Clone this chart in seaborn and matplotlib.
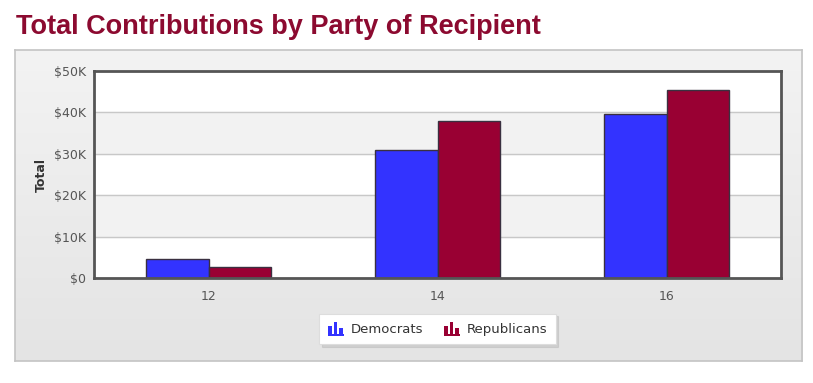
import numpy as np
import pandas as pd
import matplotlib
matplotlib.use("Agg")
import matplotlib.pyplot as plt
import seaborn as sns
from matplotlib.patches import Rectangle
from matplotlib.legend_handler import HandlerBase
from matplotlib.colors import LinearSegmentedColormap

# ---- data ----
cycles = ["12", "14", "16"]
democrats = [4500, 31000, 39500]
republicans = [2700, 38000, 45300]
parties = ["Democrats", "Republicans"]
party_colors = ["#3333FF", "#990033"]
y_ticks = [0, 10000, 20000, 30000, 40000, 50000]
y_tick_labels = ["$0", "$10K", "$20K", "$30K", "$40K", "$50K"]
title_text = "Total Contributions by Party of Recipient"
y_label = "Total"

df = pd.DataFrame({
    "cycle": cycles * 2,
    "party": [parties[0]] * len(cycles) + [parties[1]] * len(cycles),
    "total": democrats + republicans,
})

sns.set_theme(style="white")
plt.rcParams["font.family"] = ["DejaVu Sans"]

fig = plt.figure(figsize=(8.13, 3.83), dpi=100)
W, H = 813, 383

# background panel with gradient
bg = fig.add_axes([15 / W, 1 - 361 / H, (802 - 15) / W, (361 - 50) / H], zorder=-5)
grad = np.linspace(0, 1, 256).reshape(-1, 1)
cmap = LinearSegmentedColormap.from_list("g", ["#f3f3f3", "#e4e4e4"])
bg.imshow(grad, aspect="auto", cmap=cmap, extent=[0, 1, 0, 1], origin="upper")
bg.set_xlim(0, 1); bg.set_ylim(0, 1)
bg.set_xticks([]); bg.set_yticks([])
for s in bg.spines.values():
    s.set_color("#c4c4c4"); s.set_linewidth(1.2)

ax = fig.add_axes([94 / W, 1 - 278 / H, (781 - 94) / W, (278 - 71) / H])

sns.barplot(data=df, x="cycle", y="total", hue="party", palette=party_colors,
            order=cycles, hue_order=parties, width=0.55, gap=0,
            edgecolor="#3a3040", linewidth=1.0, saturation=1, ax=ax, legend=False)

ax.set_ylim(y_ticks[0], y_ticks[-1])
ax.set_xlim(-0.5, len(cycles) - 0.5)
ax.set_facecolor("white")
for i in range(len(y_ticks) - 1):
    if i % 2 == 1:
        ax.axhspan(y_ticks[i], y_ticks[i + 1], color="#f2f2f2", zorder=0)
for t in y_ticks[1:-1]:
    ax.axhline(t, color="#c8c8c8", lw=1.0, zorder=0.5)
ax.set_axisbelow(True)

ax.set_yticks(y_ticks)
ax.set_yticklabels(y_tick_labels)
ax.tick_params(axis="both", labelsize=9, colors="#555555", length=0)
ax.tick_params(axis="x", pad=9)
ax.tick_params(axis="y", pad=6)
ax.set_xlabel("")
ax.set_ylabel(y_label, fontsize=9, fontweight="bold", color="#333333", labelpad=4)
for s in ax.spines.values():
    s.set_color("#555555"); s.set_linewidth(2)

fig.text(16 / W, 1 - 27 / H, title_text, fontsize=19.5, fontweight="bold",
         color="#8c0a30", va="center", ha="left", family=["Liberation Sans", "DejaVu Sans"])


class BarsIcon(HandlerBase):
    def create_artists(self, legend, orig_handle, xdescent, ydescent, width, height,
                       fontsize, trans):
        c = orig_handle.get_facecolor()
        arts = []
        bw = width / 4.0
        heights = [0.65, 1.05, 0.5]
        for k, hh in enumerate(heights):
            r = Rectangle((-xdescent + k * (bw + 1.5), -ydescent), bw, height * hh,
                          facecolor=c, edgecolor="none", transform=trans)
            arts.append(r)
        base = Rectangle((-xdescent, -ydescent - 1.5), 3 * bw + 4, 1.2, facecolor=c,
                         edgecolor="none", transform=trans)
        arts.append(base)
        return arts


handles = [Rectangle((0, 0), 1, 1, facecolor=c) for c in party_colors]
leg = ax.legend(handles, parties, loc="center", bbox_to_anchor=(0.5, -0.246),
                ncol=2, frameon=True, fontsize=9.5, handler_map={Rectangle: BarsIcon()},
                handlelength=1.1, handleheight=1.0, handletextpad=0.6, columnspacing=1.6,
                borderpad=0.65, fancybox=False,
                shadow={"color": "#bbbbbb", "alpha": 0.5, "ox": 2, "oy": -2})
leg.get_frame().set_edgecolor("#dddddd")
leg.get_frame().set_linewidth(0.8)
for t in leg.get_texts():
    t.set_color("#333333")

fig.savefig("out.png", dpi=100)
